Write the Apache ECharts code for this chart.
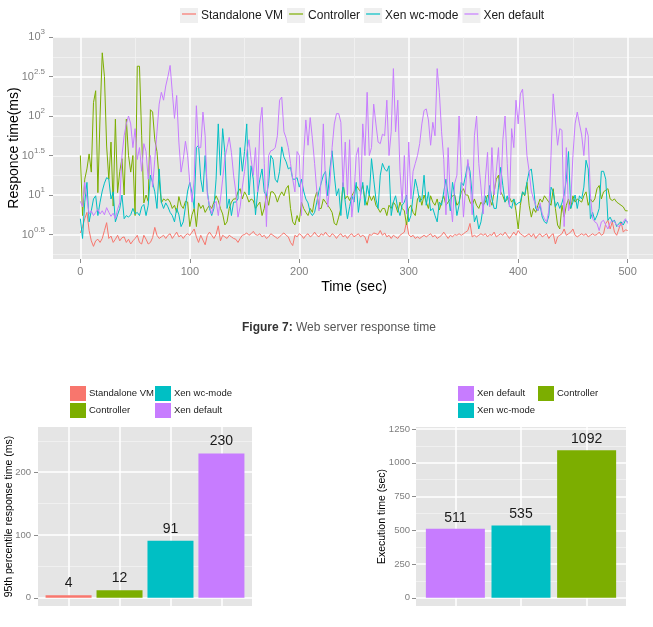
<!DOCTYPE html>
<html>
<head>
<meta charset="utf-8">
<title>Web server response time</title>
<script src="https://cdn.jsdelivr.net/npm/echarts@6/dist/echarts.min.js"></script>
<style>
  html, body { margin: 0; padding: 0; background: #ffffff; }
  #main { width: 653px; height: 627px; }
</style>
</head>
<body>
<div id="main"></div>
<script>
// response time per 2 s sample, stored as log10(ms)
var standaloneLog = [
  0.52, 0.60, 0.70, 0.78, 0.55, 0.42, 0.35, 0.42, 0.44, 0.40,
  0.45, 0.55, 0.65, 0.45, 0.48, 0.40, 0.44, 0.49, 0.42, 0.46,
  0.47, 0.40, 0.44, 0.38, 0.42, 0.45, 0.49, 0.40, 0.38, 0.49,
  0.44, 0.38, 0.40, 0.46, 0.59, 0.49, 0.45, 0.47, 0.49, 0.45,
  0.49, 0.51, 0.45, 0.49, 0.53, 0.47, 0.49, 0.45, 0.49, 0.51,
  0.49, 0.53, 0.57, 0.47, 0.40, 0.49, 0.43, 0.37, 0.49, 0.53,
  0.49, 0.45, 0.50, 0.61, 0.42, 0.49, 0.47, 0.45, 0.49, 0.47,
  0.45, 0.44, 0.40, 0.45, 0.49, 0.50, 0.52, 0.49, 0.51, 0.54,
  0.50, 0.49, 0.51, 0.47, 0.49, 0.45, 0.47, 0.51, 0.49, 0.47,
  0.45, 0.47, 0.50, 0.52, 0.49, 0.47, 0.40, 0.36, 0.49, 0.47,
  0.51, 0.49, 0.45, 0.49, 0.51, 0.47, 0.49, 0.53, 0.49, 0.47,
  0.51, 0.49, 0.53, 0.49, 0.47, 0.51, 0.49, 0.45, 0.49, 0.51,
  0.47, 0.49, 0.45, 0.49, 0.51, 0.47, 0.49, 0.51, 0.47, 0.49,
  0.47, 0.39, 0.50, 0.49, 0.52, 0.51, 0.50, 0.55, 0.49, 0.52,
  0.47, 0.49, 0.45, 0.49, 0.47, 0.45, 0.49, 0.51, 0.53, 0.66,
  0.50, 0.47, 0.49, 0.45, 0.47, 0.45, 0.47, 0.49, 0.47, 0.49,
  0.51, 0.47, 0.49, 0.45, 0.47, 0.49, 0.53, 0.49, 0.45, 0.49,
  0.47, 0.50, 0.49, 0.51, 0.49, 0.51, 0.53, 0.55, 0.64, 0.47,
  0.49, 0.47, 0.49, 0.51, 0.49, 0.51, 0.47, 0.50, 0.49, 0.53,
  0.47, 0.49, 0.51, 0.49, 0.53, 0.49, 0.45, 0.49, 0.53, 0.49,
  0.55, 0.51, 0.49, 0.47, 0.49, 0.51, 0.47, 0.51, 0.45, 0.49,
  0.51, 0.47, 0.49, 0.51, 0.45, 0.49, 0.51, 0.38, 0.47, 0.49,
  0.51, 0.57, 0.49, 0.51, 0.53, 0.57, 0.49, 0.47, 0.49, 0.51,
  0.49, 0.51, 0.47, 0.49, 0.51, 0.49, 0.50, 0.53, 0.49, 0.51,
  0.64, 0.68, 0.57, 0.66, 0.53, 0.49, 0.57, 0.66, 0.53, 0.56,
  0.55
];
var controllerLog = [
  1.50, 0.74, 1.20, 1.33, 1.52, 1.29, 2.17, 2.32, 1.03, 2.00,
  2.80, 2.50, 1.62, 1.20, 1.67, 0.86, 1.96, 1.03, 1.30, 1.46,
  1.00, 1.96, 1.50, 1.29, 1.50, 0.74, 2.63, 2.63, 1.75, 0.90,
  1.00, 0.92, 2.08, 2.05, 1.70, 1.55, 1.20, 0.90, 0.95, 0.93,
  0.95, 0.91, 0.83, 0.87, 0.78, 0.98, 0.87, 0.83, 0.92, 0.91,
  0.60, 0.75, 0.83, 0.60, 0.90, 0.83, 0.87, 0.78, 0.83, 0.87,
  0.83, 0.91, 0.99, 0.93, 0.83, 0.76, 0.62, 0.66, 0.83, 0.91,
  0.95, 0.95, 1.04, 1.08, 0.95, 1.04, 0.99, 0.91, 0.95, 0.93,
  0.83, 0.87, 0.91, 0.74, 0.83, 1.00, 0.87, 1.04, 1.04, 1.00,
  0.91, 0.99, 1.04, 0.99, 1.08, 1.12, 0.83, 0.66, 0.62, 0.74,
  0.66, 0.91, 0.83, 0.78, 0.74, 0.83, 0.78, 0.95, 1.04, 0.83,
  0.83, 0.95, 0.91, 0.87, 0.83, 0.78, 0.64, 0.62, 0.72, 0.83,
  1.15, 0.95, 0.99, 0.93, 0.99, 1.04, 1.12, 1.08, 1.04, 1.12,
  0.95, 0.87, 1.00, 0.93, 0.99, 0.87, 0.83, 0.78, 0.83, 0.83,
  0.74, 0.87, 0.83, 0.91, 0.87, 0.78, 0.91, 0.83, 0.80, 0.62,
  0.83, 0.87, 0.78, 0.74, 0.95, 0.99, 0.87, 1.00, 0.91, 0.83,
  0.99, 0.91, 0.87, 0.95, 0.81, 0.91, 0.99, 0.87, 0.91, 0.95,
  0.99, 1.00, 0.87, 0.91, 1.04, 1.08, 1.00, 1.00, 0.91, 0.87,
  0.95, 0.87, 0.83, 0.91, 0.87, 0.91, 1.00, 0.95, 0.87, 1.04,
  1.20, 1.25, 1.04, 0.99, 0.91, 0.95, 0.97, 0.91, 0.95, 0.80,
  0.57, 0.87, 1.04, 0.99, 1.16, 0.87, 0.72, 0.83, 0.78, 0.87,
  0.95, 0.91, 0.99, 0.95, 0.91, 0.87, 1.08, 0.83, 0.62, 0.57,
  0.87, 0.72, 0.87, 0.95, 0.83, 0.99, 0.91, 0.95, 0.93, 0.91,
  0.99, 1.04, 0.87, 0.95, 0.91, 0.95, 1.08, 1.12, 0.95, 1.04,
  1.06, 1.08, 0.95, 0.93, 0.95, 0.91, 0.89, 0.87, 0.85, 0.80,
  0.80
];
var wcModeLog = [
  0.70, 0.45, 0.91, 1.16, 0.66, 0.80, 0.95, 0.99, 0.74, 0.91,
  1.05, 1.15, 1.22, 1.20, 0.95, 1.04, 0.66, 0.75, 0.83, 1.00,
  0.70, 0.74, 0.72, 0.75, 0.83, 0.76, 0.78, 0.74, 0.85, 0.88,
  0.74, 0.87, 1.25, 1.16, 1.04, 0.83, 1.33, 0.91, 0.83, 0.90,
  0.85, 0.78, 0.74, 0.66, 0.83, 0.75, 0.60, 0.66, 0.85, 1.05,
  1.16, 1.02, 0.83, 1.60, 1.63, 1.20, 1.04, 1.50, 1.05, 0.83,
  0.74, 0.83, 1.20, 1.90, 1.25, 1.84, 1.54, 0.83, 0.95, 0.74,
  0.91, 0.91, 0.95, 1.60, 1.30, 1.55, 1.90, 1.00, 1.37, 1.20,
  0.75, 1.04, 1.20, 1.33, 1.04, 0.99, 1.15, 1.50, 1.45, 1.20,
  1.16, 1.30, 1.61, 1.48, 1.42, 1.33, 1.35, 1.20, 1.20, 1.22,
  1.10, 1.20, 1.05, 0.95, 0.90, 0.78, 0.74, 0.78, 0.91, 1.05,
  1.15, 1.25, 1.30, 0.99, 1.33, 1.56, 1.25, 0.99, 1.08, 0.74,
  1.16, 0.91, 0.70, 0.85, 0.99, 0.91, 1.16, 0.78, 0.99, 1.16,
  0.87, 1.12, 0.99, 1.46, 1.20, 0.95, 0.83, 1.25, 1.40, 1.33,
  1.30, 1.37, 0.74, 0.91, 0.99, 0.83, 0.74, 0.87, 0.91, 1.00,
  0.66, 0.74, 0.99, 1.20, 1.08, 0.91, 0.95, 1.25, 0.87, 1.04,
  0.80, 0.83, 0.74, 0.66, 0.91, 0.87, 1.04, 1.20, 1.00, 0.80,
  1.16, 0.99, 0.74, 0.87, 1.16, 1.12, 1.25, 1.40, 1.30, 0.99,
  0.66, 0.74, 0.57, 0.66, 0.85, 0.99, 0.87, 1.12, 0.95, 0.83,
  0.83, 1.10, 1.35, 1.12, 0.91, 0.99, 0.87, 0.83, 0.95, 0.87,
  0.90, 0.91, 1.04, 1.00, 1.16, 1.30, 1.33, 1.10, 0.83, 0.80,
  0.87, 0.72, 0.66, 0.64, 0.74, 1.10, 1.04, 0.85, 0.91, 0.83,
  0.90, 1.00, 1.20, 1.55, 0.83, 0.91, 1.00, 0.83, 0.99, 0.95,
  1.10, 1.44, 1.33, 0.70, 0.78, 0.68, 0.74, 0.83, 1.30, 1.30,
  1.20, 0.68, 0.72, 0.66, 0.68, 0.60, 0.64, 0.66, 0.62, 0.68,
  0.66
];
var xenDefaultLog = [
  0.92, 0.85, 1.16, 0.95, 0.76, 0.80, 0.74, 0.78, 0.82, 0.76,
  0.80, 0.75, 0.84, 0.78, 0.73, 0.77, 0.70, 0.82, 0.90, 1.50,
  1.75, 1.90, 2.00, 1.90, 1.60, 1.84, 1.45, 1.60, 1.30, 1.65,
  1.55, 1.20, 1.50, 1.10, 1.45, 1.80, 2.15, 2.30, 2.20, 2.38,
  2.50, 2.64, 2.30, 1.97, 2.26, 1.67, 1.29, 1.45, 1.68, 1.50,
  1.15, 0.91, 1.20, 2.13, 1.60, 1.60, 2.05, 1.75, 1.00, 0.87,
  0.76, 0.88, 0.92, 0.74, 0.95, 1.20, 1.46, 1.60, 1.73, 1.54,
  1.25, 1.04, 0.72, 0.85, 1.10, 1.30, 1.54, 1.70, 1.45, 1.25,
  1.60, 1.04, 1.90, 2.11, 1.40, 0.60, 1.50, 1.56, 1.57, 1.60,
  1.75, 2.20, 2.24, 1.80, 1.72, 1.60, 1.40, 1.20, 1.04, 1.55,
  1.50, 0.74, 1.50, 1.95, 1.63, 1.98, 1.71, 1.40, 1.05, 0.80,
  1.20, 1.90, 1.15, 0.85, 1.15, 1.60, 1.90, 2.03, 2.03, 1.92,
  1.10, 1.67, 1.00, 1.70, 0.72, 1.00, 1.50, 1.60, 0.95, 1.90,
  1.50, 2.30, 1.50, 1.60, 2.15, 1.90, 1.67, 1.65, 1.77, 1.75,
  2.20, 1.50, 1.80, 2.60, 1.80, 2.20, 1.30, 0.90, 1.50, 0.76,
  1.67, 0.95, 1.30, 1.40, 1.50, 1.65, 1.90, 2.07, 2.09, 1.95,
  1.63, 1.92, 1.75, 2.60, 2.30, 1.80, 1.45, 0.75, 1.60, 0.95,
  0.66, 1.15, 1.25, 2.00, 1.30, 0.72, 1.10, 1.45, 1.20, 0.75,
  1.75, 2.00, 1.40, 1.10, 0.76, 1.20, 1.54, 0.85, 1.60, 1.00,
  1.30, 1.60, 1.00, 1.70, 2.00, 1.40, 0.85, 1.84, 1.60, 2.20,
  1.90, 2.28, 2.34, 1.95, 1.50, 1.30, 1.05, 0.95, 0.87, 0.80,
  0.90, 0.76, 0.70, 0.66, 0.80, 1.50, 2.28, 1.95, 1.63, 1.84,
  1.82, 0.60, 1.60, 0.80, 0.90, 1.50, 1.90, 2.05, 1.90, 1.76,
  1.50, 1.85, 1.75, 1.00, 0.70, 0.66, 0.64, 0.55, 0.66, 0.68,
  0.62, 0.57, 0.65, 0.68, 0.66, 0.62, 0.60, 0.62, 0.66, 0.70,
  0.64
];

var timeTicks = [0, 100, 200, 300, 400, 500];
var timeMinor = [50, 150, 250, 350, 450];
var logTicks = [0.5, 1, 1.5, 2, 2.5, 3];
var logMinor = [0.25, 0.75, 1.25, 1.75, 2.25, 2.75];

// 95th percentile response time (ms)
var p95Names = ['Standalone VM', 'Controller', 'Xen wc-mode', 'Xen default'];
var p95Values = [4, 12, 91, 230];
var p95Ticks = [0, 100, 200];
var p95Minor = [50, 150, 250];

// execution time (sec)
var execNames = ['Xen default', 'Xen wc-mode', 'Controller'];
var execValues = [511, 535, 1092];
var execTicks = [0, 250, 500, 750, 1000, 1250];
var execMinor = [125, 375, 625, 875, 1125];

var colors = {
  'Standalone VM': '#F8766D',
  'Controller': '#7CAE00',
  'Xen wc-mode': '#00BFC4',
  'Xen default': '#C77CFF'
};

var FONT = 'Liberation Sans';
var GREY = '#7f7f7f';
var PANEL = '#e5e5e5';

var timeSec = [];
for (var i = 0; i < standaloneLog.length; i++) timeSec.push(i * 2);

function pairs(vals) {
  return vals.map(function (v, i) { return [timeSec[i], v]; });
}

function minorAxis(grid, min, max, ticks, pos) {
  return {
    type: 'value', gridIndex: grid, min: min, max: max, position: pos,
    axisLine: { show: false, onZero: false },
    axisTick: { show: false, customValues: ticks },
    axisLabel: { show: false, customValues: ticks },
    splitLine: { show: true, lineStyle: { color: '#f2f2f2', width: 0.8 } }
  };
}

function majorAxis(grid, min, max, ticks, pos, label) {
  var ax = {
    type: 'value', gridIndex: grid, min: min, max: max, position: pos,
    axisLine: { show: false, onZero: false },
    axisTick: { show: !!label, customValues: ticks, length: 4, lineStyle: { color: '#8c8c8c', width: 1 } },
    axisLabel: { show: false, customValues: ticks },
    splitLine: { show: true, lineStyle: { color: '#ffffff', width: 1.5 } }
  };
  if (label) {
    ax.axisLabel = Object.assign({
      show: true, customValues: ticks, color: GREY, fontFamily: FONT,
      formatter: function (v) { return String(v); }
    }, label);
  }
  return ax;
}

function axisTitle(ax, text, gap, size, rotate) {
  ax.name = text;
  ax.nameLocation = 'middle';
  ax.nameGap = gap;
  ax.nameMoveOverlap = false;
  if (rotate) ax.nameRotate = 90;
  ax.nameTextStyle = { fontSize: size, color: '#000000', fontFamily: FONT };
  return ax;
}

var xTime = axisTitle(majorAxis(0, -25, 525, timeTicks, 'bottom', { fontSize: 11, margin: 7 }),
  'Time (sec)', 21, 14, false);

var yLog = axisTitle(majorAxis(0, 0.19, 3.0, logTicks, 'left', {
  fontSize: 11, margin: 8, lineHeight: 18,
  formatter: function (v) { return '10{e|' + v + '}'; },
  rich: { e: { fontSize: 8, color: GREY, fontFamily: FONT, verticalAlign: 'top', lineHeight: 10 } }
}), 'Responce time(ms)', 32, 14, true);

var yP95 = axisTitle(majorAxis(1, -13, 272, p95Ticks, 'left', { fontSize: 9.5, margin: 7 }),
  '95th percentile response time (ms)', 23, 10.5, true);

var yExec = axisTitle(majorAxis(2, -61, 1265, execTicks, 'left', { fontSize: 9.5, margin: 6 }),
  'Execution time (sec)', 28, 10.5, true);

var series = [];
// bars first so the legends take their square keys from them
p95Names.forEach(function (name, i) {
  series.push({
    name: name, type: 'bar', xAxisIndex: 2, yAxisIndex: 3,
    data: [[i + 1, p95Values[i]]],
    barWidth: 46, barGap: '-100%',
    itemStyle: { color: colors[name] },
    label: { show: true, position: 'top', distance: 5, fontSize: 14, color: '#1a1a1a', fontFamily: FONT }
  });
});
execNames.forEach(function (name, i) {
  series.push({
    name: name, type: 'bar', xAxisIndex: 3, yAxisIndex: 5,
    data: [[i + 1, execValues[i]]],
    barWidth: 59, barGap: '-100%',
    itemStyle: { color: colors[name] },
    label: { show: true, position: 'top', distance: 4, fontSize: 14, color: '#1a1a1a', fontFamily: FONT }
  });
});
[['Standalone VM', standaloneLog], ['Controller', controllerLog],
 ['Xen wc-mode', wcModeLog], ['Xen default', xenDefaultLog]].forEach(function (s) {
  series.push({
    name: s[0], type: 'line', xAxisIndex: 1, yAxisIndex: 1,
    data: pairs(s[1]),
    showSymbol: false, symbol: 'none',
    color: colors[s[0]],
    lineStyle: { width: 1, color: colors[s[0]] }
  });
});

function smallLegend(names, left) {
  return {
    data: names, orient: 'vertical', left: left, top: 381,
    icon: 'rect', itemWidth: 16, itemHeight: 15, itemGap: 2,
    selectedMode: false, itemStyle: { borderWidth: 0 },
    textStyle: { fontSize: 9.5, color: '#1a1a1a', fontFamily: FONT, padding: [0, 0, 0, -2] }
  };
}

var lineNames = ['Standalone VM', 'Controller', 'Xen wc-mode', 'Xen default'];

var chart = echarts.init(document.getElementById('main'));

chart.setOption({
  animation: false,
  backgroundColor: '#ffffff',
  textStyle: { fontFamily: FONT },
  title: {
    text: '{b|Figure 7:} Web server response time',
    left: 237, top: 317,
    textStyle: {
      fontSize: 12, color: '#555555', fontWeight: 'normal', fontFamily: FONT,
      rich: { b: { fontSize: 12, color: '#333333', fontWeight: 'bold', fontFamily: FONT } }
    }
  },
  legend: [
    // grey key boxes behind the line keys
    {
      data: lineNames, left: 175, top: 3, icon: 'rect', itemWidth: 18, itemHeight: 15, itemGap: 2,
      selectedMode: false, itemStyle: { color: '#efefef', borderWidth: 0 },
      textStyle: { fontSize: 12, color: 'rgba(0,0,0,0)', fontFamily: FONT }
    },
    {
      data: lineNames, left: 177, top: 3, icon: 'rect', itemWidth: 14, itemHeight: 15, itemGap: 6,
      selectedMode: false, itemStyle: { borderWidth: 0, color: 'rgba(0,0,0,0)' },
      textStyle: { fontSize: 12, color: '#1a1a1a', fontFamily: FONT }
    },
    {
      data: lineNames, left: 177, top: 3, icon: 'rect', itemWidth: 14, itemHeight: 1.2, itemGap: 6,
      selectedMode: false, itemStyle: { borderWidth: 0 },
      textStyle: { fontSize: 12, color: 'rgba(0,0,0,0)', fontFamily: FONT }
    },
    smallLegend(['Standalone VM', 'Controller'], 65),
    smallLegend(['Xen wc-mode', 'Xen default'], 150),
    smallLegend(['Xen default', 'Xen wc-mode'], 453),
    smallLegend(['Controller'], 533)
  ],
  grid: [
    { left: 53, top: 37, width: 602, height: 222, show: true, backgroundColor: PANEL, borderWidth: 0, outerBoundsMode: 'none' },
    { left: 38, top: 427, width: 214, height: 179, show: true, backgroundColor: PANEL, borderWidth: 0, outerBoundsMode: 'none' },
    { left: 416, top: 427, width: 210, height: 179, show: true, backgroundColor: PANEL, borderWidth: 0, outerBoundsMode: 'none' }
  ],
  xAxis: [
    minorAxis(0, -25, 525, timeMinor, 'top'),
    xTime,
    majorAxis(1, 0.4, 4.6, [1, 2, 3, 4], 'bottom', null),
    majorAxis(2, 0.4, 3.6, [1, 2, 3], 'bottom', null)
  ],
  yAxis: [
    minorAxis(0, 0.19, 3.0, logMinor, 'right'),
    yLog,
    minorAxis(1, -13, 272, p95Minor, 'right'),
    yP95,
    minorAxis(2, -61, 1265, execMinor, 'right'),
    yExec
  ],
  series: series
});
</script>
</body>
</html>
